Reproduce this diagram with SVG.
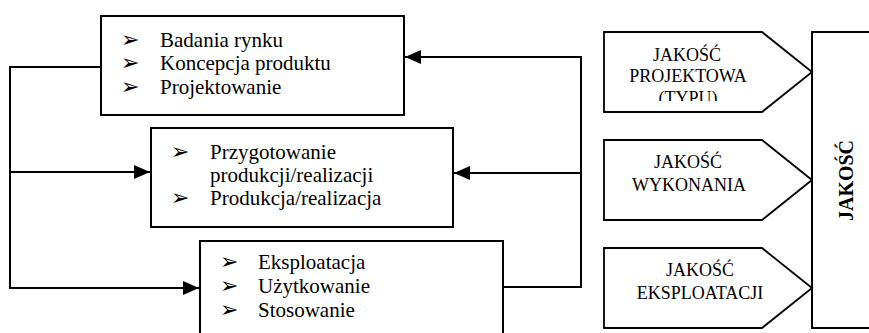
<svg xmlns="http://www.w3.org/2000/svg" width="869" height="333" viewBox="0 0 869 333">
<style>
.box{fill:#fff;stroke:#000;stroke-width:2}
.pent{fill:#fff;stroke:#000;stroke-width:1.8}
.con{fill:none;stroke:#000;stroke-width:2}
.t{font-size:21px;fill:#000}
.b{font-size:22px;fill:#000}
.p{font-size:18px;fill:#000;text-anchor:middle}
.big{font-size:20px;font-weight:bold;fill:#000;text-anchor:middle}
</style>
<defs>
<marker id="ah" markerWidth="16" markerHeight="14" refX="16" refY="7" orient="auto" markerUnits="userSpaceOnUse">
<path d="M0,0 L16,7 L0,14 z" fill="#000"/>
</marker>
<clipPath id="clip1"><rect x="604" y="33" width="200" height="68"/></clipPath>
</defs>
<rect width="869" height="333" fill="#fff"/>
<g id="connectors">
<polyline class="con" points="101,67 10,67 10,288 199,288" marker-end="url(#ah)"/>
<line class="con" x1="10" y1="172" x2="150" y2="172" marker-end="url(#ah)"/>
<polyline class="con" points="503,287 581,287 581,57 405,57" marker-end="url(#ah)"/>
<line class="con" x1="581" y1="173" x2="454" y2="173" marker-end="url(#ah)"/>
</g>
<g font-family="Liberation Serif, Times New Roman, serif">
<g id="box1">
<rect class="box" x="101" y="16" width="303" height="99"/>
<text class="b" font-family="DejaVu Sans, sans-serif" x="121" y="47">➢</text><text class="t" x="160" y="47">Badania rynku</text>
<text class="b" font-family="DejaVu Sans, sans-serif" x="121" y="70">➢</text><text class="t" x="160" y="70">Koncepcja produktu</text>
<text class="b" font-family="DejaVu Sans, sans-serif" x="121" y="94">➢</text><text class="t" x="160" y="94">Projektowanie</text>
</g>
<g id="box2">
<rect class="box" x="151" y="128" width="302" height="99"/>
<text class="b" font-family="DejaVu Sans, sans-serif" x="171" y="159">➢</text><text class="t" x="210" y="159">Przygotowanie</text>
<text class="t" x="210" y="182">produkcji/realizacji</text>
<text class="b" font-family="DejaVu Sans, sans-serif" x="171" y="205">➢</text><text class="t" x="210" y="205">Produkcja/realizacja</text>
</g>
<g id="box3">
<rect class="box" x="200" y="241" width="303" height="110"/>
<text class="b" font-family="DejaVu Sans, sans-serif" x="220" y="269">➢</text><text class="t" x="258" y="269">Eksploatacja</text>
<text class="b" font-family="DejaVu Sans, sans-serif" x="220" y="293">➢</text><text class="t" x="258" y="293">Użytkowanie</text>
<text class="b" font-family="DejaVu Sans, sans-serif" x="220" y="317">➢</text><text class="t" x="258" y="317">Stosowanie</text>
</g>
<g id="jakosc">
<rect class="box" x="812" y="32" width="70" height="296"/>
<text class="big" transform="translate(853,180.5) rotate(-90)">JAKOŚĆ</text>
</g>
<g id="pent1">
<polygon class="pent" points="604,32 762,32 812,72 762,112 604,112"/>
<g clip-path="url(#clip1)">
<text class="p" x="687" y="61">JAKOŚĆ</text>
<text class="p" x="688" y="82">PROJEKTOWA</text>
<text class="p" x="688" y="104">(TYPU)</text>
</g>
</g>
<g id="pent2">
<polygon class="pent" points="604,140 762,140 812,180 762,220 604,220"/>
<text class="p" x="688" y="168">JAKOŚĆ</text>
<text class="p" x="689" y="191">WYKONANIA</text>
</g>
<g id="pent3">
<polygon class="pent" points="604,248 762,248 812,288 762,328 604,328"/>
<text class="p" x="700" y="276">JAKOŚĆ</text>
<text class="p" x="700" y="299">EKSPLOATACJI</text>
</g>
</g>
</svg>
